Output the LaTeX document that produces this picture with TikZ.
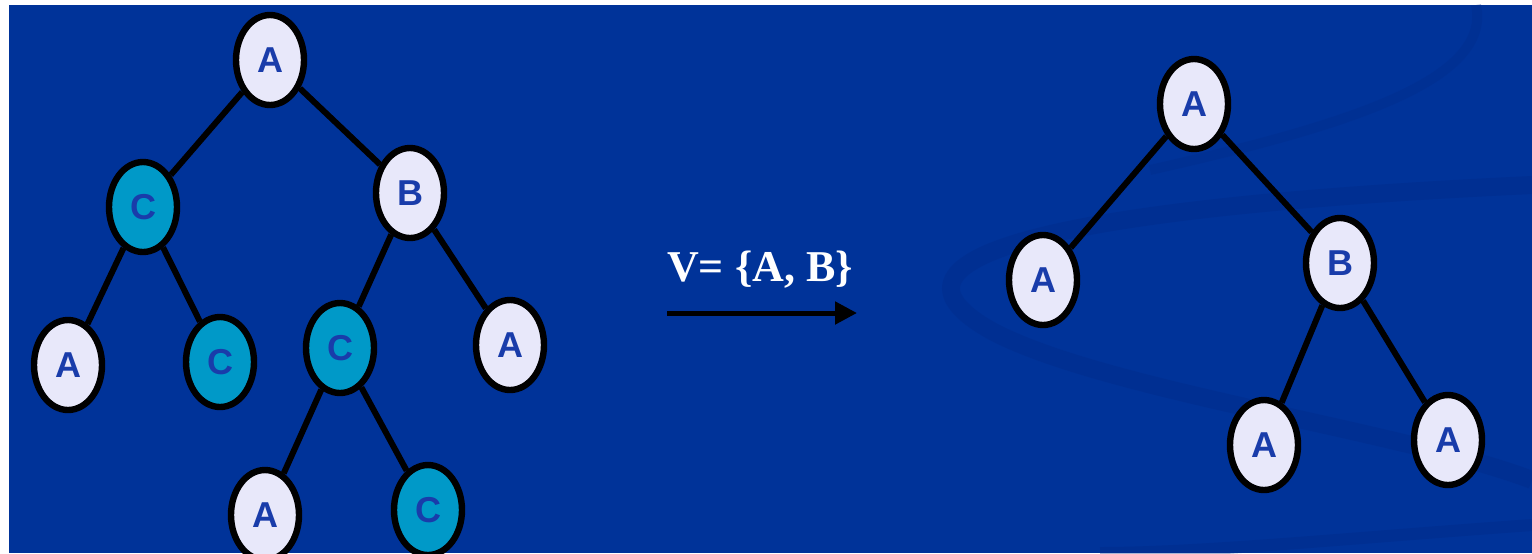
\documentclass[tikz,border=0pt]{standalone}
\usepackage{fontspec}
\setmainfont{Liberation Serif}
\newfontfamily\arialfont{Liberation Sans}
\usetikzlibrary{shapes.geometric,arrows.meta}
\definecolor{fond}{RGB}{0,51,153}
\definecolor{fondsombre}{RGB}{0,42,135}
\definecolor{lavande}{RGB}{232,232,250}
\definecolor{turquoise}{RGB}{0,153,200}
\definecolor{lettre}{RGB}{25,60,170}
\tikzset{
	noeud/.style={ellipse,draw=black,line width=3.2pt,minimum width=34pt,minimum height=45pt,
		inner sep=0pt,font=\arialfont\fontsize{18}{18}\selectfont\bfseries,text=lettre},
	clair/.style={noeud,fill=lavande},
	fonce/.style={noeud,fill=turquoise},
	arete/.style={line width=3pt,black}
}

\begin{document}
\begin{tikzpicture}[x=0.5pt,y=-0.5pt]
	\useasboundingbox (0,0) rectangle (1532,553);
	\clip (0,0) rectangle (1532,553);
	\fill[white] (0,0) rectangle (1532,553);
	\fill[fond] (9,5) rectangle (1532,553);
	\draw[fondsombre,line width=9pt,opacity=0.35] (1532,185) .. controls (1100,205) and (850,250) .. (990,330)
		.. controls (1100,390) and (1400,430) .. (1532,480);
	\draw[fondsombre,line width=5pt,opacity=0.3] (1476,5) .. controls (1492,80) and (1350,125) .. (1150,170);
	\draw[fondsombre,line width=6pt,opacity=0.35] (1532,525) .. controls (1350,538) and (1200,553) .. (1100,553);
	\foreach \coordonnees/\nom/\lettre/\style in
	{{(270,60)}/la/A/clair,
	{(143,207)}/lc/C/fonce,
	{(410,193)}/lb/B/clair,
	{(68,365)}/lca/A/clair,
	{(220,362)}/lcc/C/fonce,
	{(340,348)}/lbc/C/fonce,
	{(510,345)}/lba/A/clair,
	{(265,515)}/lbca/A/clair,
	{(428,510)}/lbcc/C/fonce,
	{(1194,104)}/ra/A/clair,
	{(1043,280)}/raa/A/clair,
	{(1340,263)}/rb/B/clair,
	{(1264,445)}/rba/A/clair,
	{(1448,440)}/rbb/A/clair}
		{\node[\style] (\nom) at \coordonnees {\lettre};}
	\foreach \depart/\arrivee in
	{la/lc,la/lb,lc/lca,lc/lcc,lb/lbc,lb/lba,lbc/lbca,lbc/lbcc,
	ra/raa,ra/rb,rb/rba,rb/rbb}
		{\draw[arete] (\depart) -- (\arrivee);}
	\node[text=white,font=\fontsize{22}{22}\selectfont\bfseries] (ens) at (760,270) {V= \{A, B\}};
	\coordinate (flecheD) at (667,313);
	\coordinate (flecheF) at (857,313);
	\draw[line width=2.5pt,-{Triangle[length=11pt,width=11pt]}] (flecheD) -- (flecheF);
\end{tikzpicture}
\end{document}
